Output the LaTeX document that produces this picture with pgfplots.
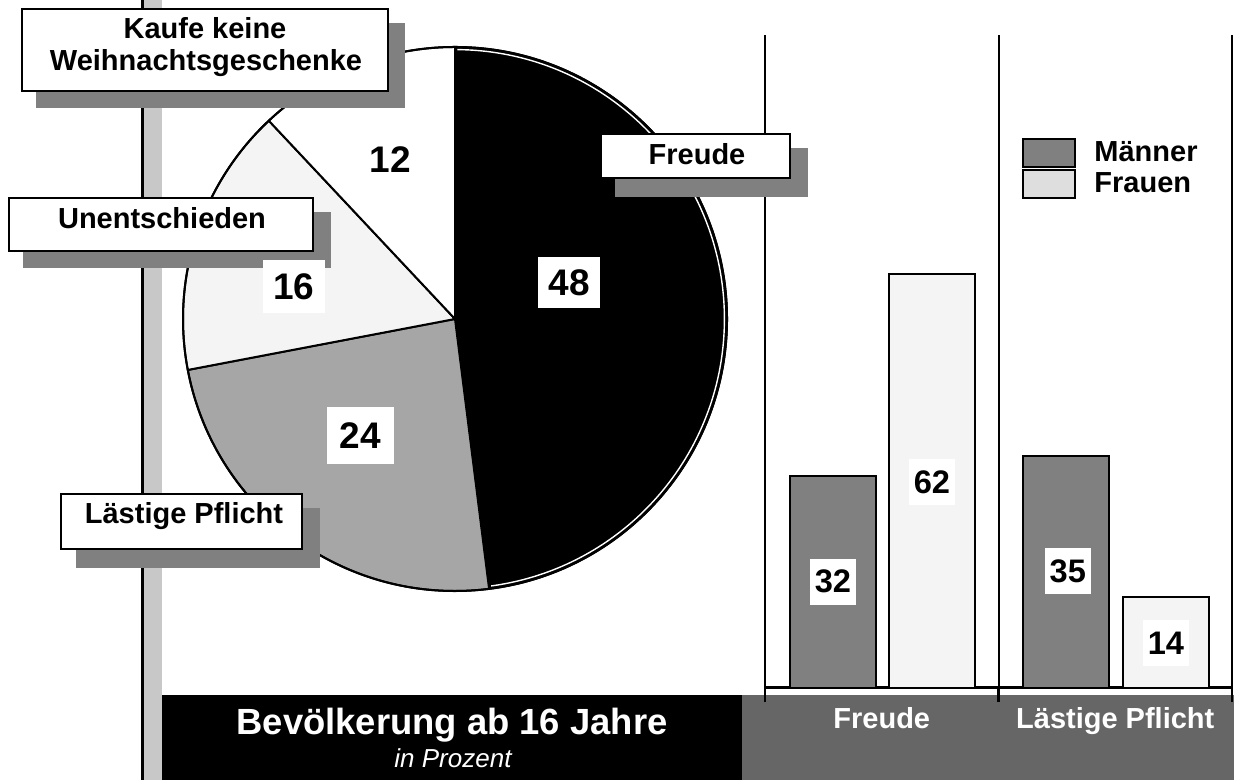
\documentclass[border=0pt]{standalone}
\usepackage{fontspec}
\setmainfont{Liberation Sans}
\usepackage{pgfplots}
\pgfplotsset{compat=1.18}
\definecolor{pieGray}{HTML}{A6A6A6}
\definecolor{pieLight}{HTML}{F4F4F4}
\definecolor{shadowGray}{HTML}{808080}
\definecolor{sideBar}{HTML}{C8C8C8}
\definecolor{barM}{HTML}{808080}
\definecolor{barF}{HTML}{F4F4F4}
\definecolor{legF}{HTML}{DEDEDE}
\definecolor{footGray}{HTML}{666666}
\newcommand\boxfont{\fontsize{14.5}{16}\selectfont\bfseries}
\newcommand\piefont{\fontsize{18.5}{20}\selectfont\bfseries}
\newcommand\barfont{\fontsize{16.3}{18}\selectfont\bfseries}
\begin{document}
\begin{tikzpicture}
% left side bar
\begin{scope}[x=0.5pt,y=-0.5pt,yshift=390pt]
  \fill[sideBar] (142,0) rectangle (162,780);
  \fill[black] (141,0) rectangle (143.5,780);
\end{scope}
% ---------- pie (values 48, 24, 16, 12 percent) ----------
\begin{axis}[at={(0,0)}, anchor=south west, width=617pt, height=390pt,
  scale only axis, hide axis, xmin=0, xmax=1234, ymin=0, ymax=780, clip=false]
  % Freude 48
  \filldraw[fill=black, draw=black, line width=1pt, line join=round]
    (axis cs:455,461) -- ++(90:136pt) arc[start angle=90, delta angle={-3.6*48}, radius=136pt] -- cycle;
  % Laestige Pflicht 24
  \filldraw[fill=pieGray, draw=black, line width=1pt, line join=round]
    (axis cs:455,461) -- ++({90-3.6*48}:136pt) arc[start angle={90-3.6*48}, delta angle={-3.6*24}, radius=136pt] -- cycle;
  % Unentschieden 16
  \filldraw[fill=pieLight, draw=black, line width=1pt, line join=round]
    (axis cs:455,461) -- ++({90-3.6*72}:136pt) arc[start angle={90-3.6*72}, delta angle={-3.6*16}, radius=136pt] -- cycle;
  % Kaufe keine 12
  \filldraw[fill=white, draw=black, line width=1pt, line join=round]
    (axis cs:455,461) -- ++({90-3.6*88}:136pt) arc[start angle={90-3.6*88}, delta angle={-3.6*12}, radius=136pt] -- cycle;
  % white inner rim of black slice
  \draw[white, line width=0.7pt] (axis cs:455,461) ++(89.5:134.7pt)
    arc[start angle=89.5, delta angle={-3.6*48+1}, radius=134.7pt];
  \draw[black, line width=1pt] (axis cs:455,461) circle[radius=136pt];
\end{axis}
% ---------- labels of the pie and footer ----------
\begin{scope}[x=0.5pt,y=-0.5pt,yshift=390pt]
  % Kaufe keine Weihnachtsgeschenke
  \fill[shadowGray] (36,23) rectangle (405,108);
  \filldraw[fill=white, draw=black, line width=1pt] (22,9) rectangle (388,91);
  \node[anchor=base, font=\boxfont, inner sep=0pt] at (205,39) {Kaufe keine};
  \node[anchor=base, font=\boxfont, inner sep=0pt] at (206,71) {Weihnachtsgeschenke};
  % Unentschieden
  \fill[shadowGray] (23,212) rectangle (331,268);
  \filldraw[fill=white, draw=black, line width=1pt] (9,198) rectangle (313,251);
  \node[anchor=base, font=\boxfont, inner sep=0pt] at (162,229) {Unentschieden};
  % Laestige Pflicht
  \fill[shadowGray] (76,508) rectangle (320,568);
  \filldraw[fill=white, draw=black, line width=1pt] (61,494) rectangle (302,549);
  \node[anchor=base, font=\boxfont, inner sep=0pt] at (184,524) {Lästige Pflicht};
  % pie values
  \node[fill=white, minimum width=31pt, minimum height=25.5pt, inner sep=0pt, font=\piefont] at (569,283) {48};
  \node[fill=white, minimum width=33.5pt, minimum height=28.5pt, inner sep=0pt, font=\piefont] at (360.5,435.5) {24};
  \node[fill=white, minimum width=31pt, minimum height=26.5pt, inner sep=0pt, font=\piefont] at (294,286.5) {16};
  \node[inner sep=0pt, font=\piefont] at (390,160) {12};
  % footer
  \fill[black] (162,695) rectangle (742,780);
  \fill[footGray] (742,695) rectangle (1234,780);
  \node[anchor=base, text=white, inner sep=0pt, font=\fontsize{18.2}{20}\selectfont\bfseries] at (452,734) {Bevölkerung ab 16 Jahre};
  \node[anchor=base, text=white, inner sep=0pt, font=\fontsize{13}{15}\selectfont\itshape] at (453,768) {in Prozent};
\end{scope}
% ---------- bar chart ----------
\begin{axis}[at={(382.5pt,46pt)}, anchor=south west,
  width=233.5pt, height=326.5pt, scale only axis,
  xmin=-0.5, xmax=1.5, ymin=0.5, ymax=97.6,
  axis x line=bottom, axis y line=none,
  axis line style={-, line width=1.5pt, black},
  ytick=\empty,
  xtick={-0.5,0.5,1.5}, xticklabels={,,},
  xmajorgrids, major grid style={black, line width=1pt},
  tick align=outside, major tick length=7pt,
  xtick style={black, line width=1.2pt},
  extra x ticks={0,1}, extra x tick labels={Freude, Lästige Pflicht},
  extra x tick style={grid=none, major tick length=0pt,
    xticklabel style={text=white, font=\boxfont, anchor=base, yshift=-20pt}},
  legend style={at={(0.5503,0.8423)}, anchor=north west, draw=none, fill=none,
    inner sep=0pt, outer sep=0pt, row sep=0.5pt, column sep=0pt,
    font=\boxfont, cells={anchor=base west}, nodes={inner sep=0pt}},
]
  \addplot[ybar, bar width=43pt, bar shift=-24.4pt, fill=barM, draw=black, line width=1pt, forget plot]
    coordinates {(0,32) (1,35)};
  \addplot[ybar, bar width=43pt, bar shift=25.15pt, fill=barF, draw=black, line width=1pt, forget plot]
    coordinates {(0,62) (1,14)};
  \addplot[draw=none, mark=none, forget plot, nodes near coords, point meta=explicit symbolic,
    nodes near coords style={anchor=center, fill=white, font=\barfont, inner sep=0pt,
      minimum width=23pt, minimum height=23pt}]
    coordinates {(-0.209,16.3) [32] (0.215,31.1) [62] (0.797,17.9) [35] (1.217,7.2) [14]};
  \addlegendimage{legend image code/.code={\draw[fill=barM, draw=black, line width=1.2pt] (0.6pt,-2.4pt) rectangle (26.4pt,11.4pt); \path (36pt,0pt);}}
  \addlegendentry{Männer}
  \addlegendimage{legend image code/.code={\draw[fill=legF, draw=black, line width=1.2pt] (0.6pt,-2.4pt) rectangle (26.4pt,11.4pt); \path (36pt,0pt);}}
  \addlegendentry{Frauen}
\end{axis}
% Freude label box (on top of the bar chart grid)
\begin{scope}[x=0.5pt,y=-0.5pt,yshift=390pt]
  \fill[shadowGray] (615,148) rectangle (808,197);
  \filldraw[fill=white, draw=black, line width=1pt] (601,134) rectangle (790,178);
  \node[anchor=base, font=\boxfont, inner sep=0pt] at (697,165) {Freude};
\end{scope}
\pgfresetboundingbox
\path[use as bounding box] (0,0) rectangle (617pt,390pt);
\end{tikzpicture}
\end{document}
